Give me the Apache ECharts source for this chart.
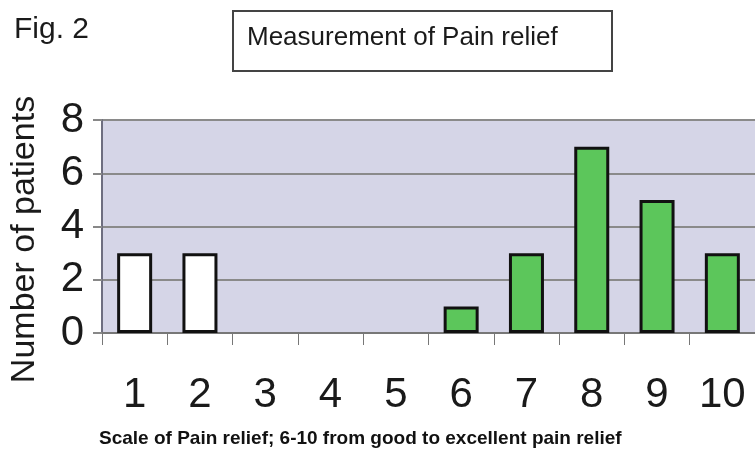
<!DOCTYPE html>
<html>
<head>
<meta charset="utf-8">
<script src="https://cdn.jsdelivr.net/npm/echarts@6/dist/echarts.min.js"></script>
<style>
  html, body { margin: 0; padding: 0; background: #fff; }
  #chart { width: 755px; height: 453px; }
</style>
</head>
<body>
<div id="chart"></div>
<script>
// pain relief scale 1..10
const scale = ['1', '2', '3', '4', '5', '6', '7', '8', '9', '10'];
const patients = [3, 3, 0, 0, 0, 1, 3, 7, 5, 3];
const yTicks = [0, 2, 4, 6, 8];

const font = "'Liberation Sans', Arial, sans-serif";

const myChart = echarts.init(document.getElementById('chart'));
myChart.setOption({
  animation: false,
  textStyle: { fontFamily: font },
  title: [
    {
      text: 'Fig. 2',
      left: 14, top: 15, padding: 0,
      textStyle: { fontSize: 30, fontWeight: 'normal', color: '#1a1a1a', fontFamily: font }
    },
    {
      text: 'Scale of Pain relief; 6-10 from good to excellent pain relief',
      left: 99, top: 429, padding: 0,
      textStyle: { fontSize: 19, fontWeight: 'bold', color: '#111', fontFamily: font }
    }
  ],
  graphic: [
    {
      type: 'rect',
      shape: { x: 233, y: 11, width: 379, height: 60 },
      style: { fill: '#fff', stroke: '#444', lineWidth: 2 }
    },
    {
      type: 'text',
      left: 247, top: 25,
      style: { text: 'Measurement of Pain relief', font: '26px ' + font, fill: '#1a1a1a' }
    }
  ],
  grid: {
    left: 101, top: 120, width: 662, height: 213,
    show: true, backgroundColor: '#d5d5e7', borderWidth: 0
  },
  xAxis: {
    type: 'category',
    data: scale,
    axisLine: { lineStyle: { color: '#777', width: 2 } },
    axisTick: { show: true, length: 12, alignWithLabel: false, lineStyle: { color: '#777', width: 1 } },
    axisLabel: { fontSize: 42, color: '#1a1a1a', margin: 41, interval: 0 }
  },
  yAxis: {
    type: 'value',
    min: 0, max: 8, interval: 2,
    name: 'Number of patients',
    nameLocation: 'middle',
    nameRotate: 90,
    nameGap: 60,
    nameTextStyle: { fontSize: 34, color: '#1a1a1a', padding: [0, 26, 0, 0] },
    axisLine: { show: true, lineStyle: { color: '#6e6e80', width: 2 } },
    axisTick: { show: true, length: 9, lineStyle: { color: '#888', width: 2 } },
    axisLabel: {
      fontSize: 42, color: '#1a1a1a', margin: 18,
      formatter: v => yTicks.includes(v) ? String(v) : ''
    },
    splitLine: { show: true, lineStyle: { color: '#8a8a8a', width: 2 } }
  },
  series: [{
    type: 'bar',
    // empty categories get no bar outline
    data: patients.map(v => (v === 0 ? null : v)),
    barWidth: 35,
    itemStyle: {
      color: p => p.dataIndex < 5 ? '#ffffff' : '#5cc65b',
      borderColor: '#111',
      borderWidth: 3
    }
  }]
});
</script>
</body>
</html>
